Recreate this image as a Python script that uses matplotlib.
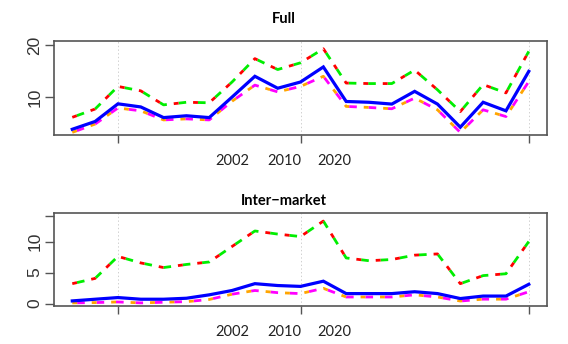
import matplotlib
matplotlib.use("Agg")
import matplotlib.pyplot as plt

plt.rcParams["lines.scale_dashes"] = False

# data
years = [2000, 2001, 2002, 2003, 2004, 2005, 2006, 2007, 2008, 2009, 2010,
         2011, 2012, 2013, 2014, 2015, 2016, 2017, 2018, 2019, 2020]

full_upper = [6.1, 7.7, 12.05, 11.2, 8.5, 9.0, 8.9, 12.9, 17.4, 15.3, 16.6,
              19.3, 12.7, 12.6, 12.6, 15.2, 11.4, 7.2, 12.4, 10.8, 18.8]
full_mid = [3.8, 5.3, 8.7, 8.1, 6.05, 6.4, 6.05, 10.0, 14.0, 11.7, 12.9,
            15.8, 9.15, 9.0, 8.65, 11.1, 8.65, 4.2, 9.0, 7.35, 14.95]
full_lower = [3.2, 4.8, 7.9, 7.35, 5.6, 5.8, 5.6, 9.2, 12.3, 11.0, 12.05,
              14.0, 8.2, 8.0, 7.75, 9.8, 7.55, 3.2, 7.55, 6.25, 13.0]

inter_upper = [3.2, 4.05, 7.6, 6.55, 5.8, 6.3, 6.7, 9.2, 11.7, 11.2, 10.8,
               13.3, 7.35, 6.9, 7.1, 7.8, 8.0, 3.2, 4.5, 4.8, 10.0]
inter_mid = [0.42, 0.69, 0.96, 0.69, 0.69, 0.85, 1.4, 2.1, 3.2, 2.9, 2.76,
             3.6, 1.6, 1.6, 1.6, 1.9, 1.6, 0.8, 1.2, 1.2, 3.1]
inter_lower = [0.1, 0.15, 0.25, 0.1, 0.2, 0.3, 0.65, 1.5, 2.1, 1.75, 1.6,
               2.45, 1.05, 1.05, 1.05, 1.4, 1.05, 0.4, 0.7, 0.7, 1.9]

grid_years = [2002, 2010, 2020]
label_pos = [2007.0, 2009.3, 2011.5]
label_txt = ["2002", "2010", "2020"]

fig = plt.figure(figsize=(5.68, 3.44), dpi=100)
ax1 = fig.add_axes([0.0951, 0.6076, 0.868, 0.2733])
ax2 = fig.add_axes([0.0951, 0.1105, 0.868, 0.2703])

panels = [
    (ax1, "Full", full_upper, full_mid, full_lower, (2.7, 20.8), [10, 20], ["10", "20"], 0.945),
    (ax2, "Inter\u2212market", inter_upper, inter_mid, inter_lower, (-0.4, 14.6),
     [0, 5, 10, 14.1], ["0", "5", "10", ""], 0.416),
]

short_dash = (0, (3.5, 10.5))
long_dash = (10.5, (5.5, 8.5))

for ax, title, up, mid, low, ylim, yt, ytl, ty in panels:
    for g in grid_years:
        ax.axvline(g, color="#c8c8c8", lw=0.6, ls=":", zorder=0)
    # red short dash followed by green dash, then a gap
    ax.plot(years, up, color="#00ee00", lw=2.0, ls=long_dash)
    ax.plot(years, up, color="#ff0000", lw=2.0, ls=short_dash)
    ax.plot(years, low, color="#ff00ff", lw=2.0, ls=long_dash)
    ax.plot(years, low, color="#ffa500", lw=2.0, ls=short_dash)
    ax.plot(years, mid, color="#0000ff", lw=2.3, solid_joinstyle="miter")

    ax.set_xlim(1999.2, 2020.8)
    ax.set_ylim(*ylim)
    ax.set_xticks(grid_years)
    ax.set_xticklabels([])
    ax.set_xticks(label_pos, minor=True)
    ax.set_xticklabels(label_txt, minor=True, fontsize=10.5, color="#222222",
                       family=["Lato", "DejaVu Sans"])
    ax.tick_params(axis="x", which="major", length=6, width=1, color="#555555")
    ax.tick_params(axis="x", which="minor", length=0, pad=14)
    ax.set_yticks(yt)
    ax.set_yticklabels(ytl, rotation=90, va="center", fontsize=12.5,
                       color="#333333", family="Liberation Sans")
    ax.tick_params(axis="y", length=6.5, width=1, color="#555555", pad=2)
    for s in ax.spines.values():
        s.set_color("#555555")
        s.set_linewidth(1.2)
    fig.text(0.5, ty, title, ha="center", va="center", fontsize=10.5,
             fontweight="bold", family=["Lato", "DejaVu Sans"])

fig.savefig("out.png", dpi=100)
